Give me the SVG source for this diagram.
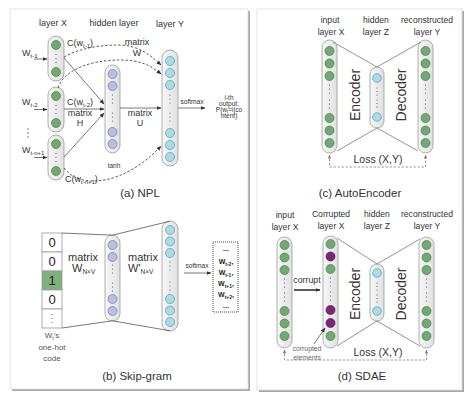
<svg xmlns="http://www.w3.org/2000/svg" width="474" height="401" viewBox="0 0 474 401">
<style>
.t{font-family:"Liberation Sans",Arial,sans-serif;fill:#333}
.col{fill:url(#cg);stroke:#9a9a9a;stroke-width:0.8}
.g{fill:#72a872;stroke:#4e7e4e;stroke-width:0.7}
.p{fill:#bdbde3;stroke:#7878a8;stroke-width:0.7}
.c{fill:#a9dce7;stroke:#5a9bb0;stroke-width:0.7}
.m{fill:#7b257b;stroke:#571557;stroke-width:0.7}
.d{fill:#555}
.ln{stroke:#555;stroke-width:0.8;fill:none}
.dl{stroke:#333;stroke-width:0.8;fill:none;stroke-dasharray:2.5,1.8}
.ls{stroke:#888;stroke-width:0.8;fill:none;stroke-dasharray:2.5,1.5}
.panel{fill:#fff;stroke:#dcdcdc;stroke-width:0.8}
.shadow{fill:#a8a8a8}
</style>
<defs>
<linearGradient id="cg" x1="0" x2="1" y1="0" y2="0"><stop offset="0" stop-color="#f8f8f8"/><stop offset="1" stop-color="#e0e0e0"/></linearGradient>
<marker id="ah" viewBox="0 0 10 10" refX="9" refY="5" markerWidth="5" markerHeight="5" markerUnits="userSpaceOnUse" orient="auto-start-reverse"><path d="M0,1 L10,5 L0,9 z" fill="#333"/></marker>
<marker id="ahs" viewBox="0 0 10 10" refX="9" refY="5" markerWidth="4" markerHeight="4" markerUnits="userSpaceOnUse" orient="auto-start-reverse"><path d="M0,1 L10,5 L0,9 z" fill="#777"/></marker>
</defs>

<!-- panels -->
<rect class="shadow" x="12" y="11" width="238" height="380"/>
<rect class="panel" x="10" y="9" width="238" height="380"/>
<rect class="shadow" x="259" y="11" width="205" height="381"/>
<rect class="panel" x="257" y="9" width="205" height="381"/>

<!-- ===== (a) NPL ===== -->
<text class="t" x="53" y="26" text-anchor="middle" font-size="9">layer X</text>
<text class="t" x="114" y="26" text-anchor="middle" font-size="9">hidden layer</text>
<text class="t" x="170" y="27" text-anchor="middle" font-size="9">layer Y</text>

<g id="npl-x1"><rect class="col" x="48" y="36" width="16" height="45" rx="8"/><circle class="g" cx="56" cy="45" r="4.5"/><circle class="d" cx="56" cy="54.5" r="0.6"/><circle class="d" cx="56" cy="58.5" r="0.6"/><circle class="d" cx="56" cy="62.5" r="0.6"/><circle class="g" cx="56" cy="72" r="4.5"/></g>
<g id="npl-x2"><rect class="col" x="48" y="87" width="16" height="45" rx="8"/><circle class="g" cx="56" cy="96" r="4.5"/><circle class="d" cx="56" cy="105.5" r="0.6"/><circle class="d" cx="56" cy="109.5" r="0.6"/><circle class="d" cx="56" cy="113.5" r="0.6"/><circle class="g" cx="56" cy="123" r="4.5"/></g>
<g id="npl-x3"><rect class="col" x="48" y="135" width="16" height="45" rx="8"/><circle class="g" cx="56" cy="144" r="4.5"/><circle class="d" cx="56" cy="153.5" r="0.6"/><circle class="d" cx="56" cy="157.5" r="0.6"/><circle class="d" cx="56" cy="161.5" r="0.6"/><circle class="g" cx="56" cy="171" r="4.5"/></g>
<g id="npl-hidden"><rect class="col" x="105" y="65" width="15" height="88" rx="7.5"/><circle class="p" cx="112.5" cy="74" r="4.5"/><circle class="p" cx="112.5" cy="86" r="4.5"/><circle class="d" cx="112.5" cy="95" r="0.6"/><circle class="d" cx="112.5" cy="99" r="0.6"/><circle class="d" cx="112.5" cy="103" r="0.6"/><circle class="d" cx="112.5" cy="113" r="0.6"/><circle class="d" cx="112.5" cy="117" r="0.6"/><circle class="d" cx="112.5" cy="121" r="0.6"/><circle class="p" cx="112.5" cy="132" r="4.5"/><circle class="p" cx="112.5" cy="144" r="4.5"/></g>
<g id="npl-y"><rect class="col" x="162" y="50" width="16" height="116" rx="8"/><circle class="c" cx="170" cy="61" r="4.5"/><circle class="c" cx="170" cy="73" r="4.5"/><circle class="c" cx="170" cy="85" r="4.5"/><circle class="d" cx="170" cy="95" r="0.6"/><circle class="d" cx="170" cy="99" r="0.6"/><circle class="d" cx="170" cy="103" r="0.6"/><circle class="d" cx="170" cy="113" r="0.6"/><circle class="d" cx="170" cy="117" r="0.6"/><circle class="d" cx="170" cy="121" r="0.6"/><circle class="c" cx="170" cy="133" r="4.5"/><circle class="c" cx="170" cy="145" r="4.5"/><circle class="c" cx="170" cy="157" r="4.5"/></g>

<g class="t" font-size="9">
<text x="22" y="56">W<tspan font-size="6" dy="2">t-1</tspan></text>
<text x="22" y="105">W<tspan font-size="6" dy="2">t-2</tspan></text>
<text x="22" y="153">W<tspan font-size="6" dy="2">t-n+1</tspan></text>
<text x="67" y="46">C(w<tspan font-size="6" dy="2">t-1</tspan><tspan dy="-2">)</tspan></text>
<text x="67" y="105">C(w<tspan font-size="6" dy="2">t-2</tspan><tspan dy="-2">)</tspan></text>
<text x="65" y="182">C(w<tspan font-size="6" dy="2">t-n+1</tspan><tspan dy="-2">)</tspan></text>
<text x="80" y="116" text-anchor="middle">matrix</text>
<text x="80" y="126" text-anchor="middle">H</text>
<text x="140" y="116" text-anchor="middle">matrix</text>
<text x="140" y="126" text-anchor="middle">U</text>
<text x="137" y="45" text-anchor="middle">matrix</text>
<text x="137" y="55.5" text-anchor="middle">W</text>
</g>
<circle class="d" cx="28" cy="129" r="0.7"/><circle class="d" cx="28" cy="133" r="0.7"/><circle class="d" cx="28" cy="137" r="0.7"/>
<text class="t" x="114" y="168" text-anchor="middle" font-size="6.5">tanh</text>
<text class="t" x="192" y="104" text-anchor="middle" font-size="6.6">softmax</text>
<g class="t" font-size="6.5" text-anchor="middle" fill="#333" style="fill:#333">
<text x="229" y="99.5" fill="#333">i-th</text>
<text x="229" y="105.8" fill="#333">output:</text>
<text x="229" y="112.1" fill="#333">P(w<tspan font-size="4.5" dy="1.2">t</tspan><tspan dy="-1.2">=i|co</tspan></text>
<text x="229" y="118.4" fill="#333">ntent)</text>
</g>
<text class="t" x="140" y="197" text-anchor="middle" font-size="11.5">(a) NPL</text>

<g id="npl-connectors">
<path class="ln" d="M34,59 H47" marker-end="url(#ah)"/>
<path class="ln" d="M34,109.5 H47" marker-end="url(#ah)"/>
<path class="ln" d="M34,157.5 H47" marker-end="url(#ah)"/>
<path class="ln" d="M64,58 L104,104" marker-end="url(#ah)"/>
<path class="ln" d="M64,109 H104" marker-end="url(#ah)"/>
<path class="ln" d="M64,157 L104,113" marker-end="url(#ah)"/>
<path class="ln" d="M120,108 H161" marker-end="url(#ah)"/>
<path class="ln" d="M178,108 H205" marker-end="url(#ah)"/>
<path class="dl" d="M64,57 C80,48 100,45 120,45 C140,46 150,55 161,65" marker-end="url(#ah)"/>
<path class="dl" d="M58,88 C64,70 90,60 120,60 C140,60 150,65 161,74" marker-end="url(#ah)"/>
<path class="dl" d="M64,168 C80,190 125,185 161,146" marker-end="url(#ah)"/>
</g>

<!-- ===== (b) Skip-gram ===== -->
<g id="sg-onehot">
<rect x="42" y="233" width="20" height="19" fill="#fff" stroke="#999" stroke-width="0.8"/>
<rect x="42" y="252" width="20" height="19" fill="#fff" stroke="#999" stroke-width="0.8"/>
<rect x="42" y="271" width="20" height="19" fill="#7fae7f" stroke="#999" stroke-width="0.8"/>
<rect x="42" y="290" width="20" height="19" fill="#fff" stroke="#999" stroke-width="0.8"/>
<rect x="42" y="309" width="20" height="19" fill="#fff" stroke="#999" stroke-width="0.8"/>
<g class="t" font-size="13" text-anchor="middle" style="fill:#222">
<text x="52" y="247">0</text><text x="52" y="266">0</text><text x="52" y="285">1</text><text x="52" y="304">0</text>
</g>
<circle class="d" cx="52" cy="314.5" r="0.6"/><circle class="d" cx="52" cy="318.5" r="0.6"/><circle class="d" cx="52" cy="322.5" r="0.6"/>
</g>
<g class="t" font-size="8" text-anchor="middle" style="fill:#555">
<text x="52" y="338">W<tspan font-size="5.5" dy="1.5">t</tspan><tspan dy="-1.5">'s</tspan></text>
<text x="52" y="350">one-hot</text>
<text x="52" y="361">code</text>
</g>
<g id="sg-hidden"><rect class="col" x="105" y="235" width="15" height="86" rx="7.5"/><circle class="p" cx="112.5" cy="245" r="4.5"/><circle class="p" cx="112.5" cy="257" r="4.5"/><circle class="d" cx="112.5" cy="265" r="0.6"/><circle class="d" cx="112.5" cy="269" r="0.6"/><circle class="d" cx="112.5" cy="273" r="0.6"/><circle class="d" cx="112.5" cy="283" r="0.6"/><circle class="d" cx="112.5" cy="287" r="0.6"/><circle class="d" cx="112.5" cy="291" r="0.6"/><circle class="p" cx="112.5" cy="299" r="4.5"/><circle class="p" cx="112.5" cy="311" r="4.5"/></g>
<g id="sg-out"><rect class="col" x="162" y="221" width="16" height="110" rx="8"/><circle class="c" cx="170" cy="230" r="4.5"/><circle class="c" cx="170" cy="241.5" r="4.5"/><circle class="c" cx="170" cy="253" r="4.5"/><circle class="d" cx="170" cy="262" r="0.6"/><circle class="d" cx="170" cy="266" r="0.6"/><circle class="d" cx="170" cy="270" r="0.6"/><circle class="d" cx="170" cy="282" r="0.6"/><circle class="d" cx="170" cy="286" r="0.6"/><circle class="d" cx="170" cy="290" r="0.6"/><circle class="c" cx="170" cy="299" r="4.5"/><circle class="c" cx="170" cy="310.5" r="4.5"/><circle class="c" cx="170" cy="322" r="4.5"/></g>
<g id="sg-words">
<rect x="213" y="242" width="25" height="70" fill="#fff" stroke="#333" stroke-width="0.9" stroke-dasharray="1,1"/>
<g class="t" font-size="7" font-weight="bold" text-anchor="middle" style="fill:#222">
<text x="226" y="251">...</text>
<text x="226" y="264">W<tspan font-size="5" dy="1.5">t-2</tspan><tspan dy="-1.5">,</tspan></text>
<text x="226" y="275">W<tspan font-size="5" dy="1.5">t-1</tspan><tspan dy="-1.5">,</tspan></text>
<text x="226" y="286">W<tspan font-size="5" dy="1.5">t+1</tspan><tspan dy="-1.5">,</tspan></text>
<text x="226" y="297">W<tspan font-size="5" dy="1.5">t+2</tspan><tspan dy="-1.5">,</tspan></text>
<text x="226" y="308">...</text>
</g>
</g>
<g class="t" font-size="11">
<text x="83" y="261" text-anchor="middle">matrix</text>
<text x="72" y="272">W<tspan font-size="6.5" dy="2">N×V</tspan></text>
<text x="143" y="261" text-anchor="middle">matrix</text>
<text x="128" y="272">W'<tspan font-size="6.5" dy="2">N×V</tspan></text>
</g>
<text class="t" x="197" y="268" text-anchor="middle" font-size="6.6">softmax</text>
<text class="t" x="137" y="380" text-anchor="middle" font-size="11.5">(b) Skip-gram</text>
<g id="sg-connectors">
<path class="ln" d="M62,233 L112.5,235.2 M62,328 L112.5,320.8 M112.5,235.2 L170,221.2 M112.5,320.8 L170,330.8"/>
<path class="ln" d="M184,273 H211" marker-end="url(#ah)"/>
</g>

<!-- ===== (c) AutoEncoder ===== -->
<g class="t" font-size="8.6" text-anchor="middle">
<text x="330" y="23">input</text><text x="331" y="35">layer X</text>
<text x="376" y="23">hidden</text><text x="376" y="35">layer Z</text>
<text x="427" y="23">reconstructed</text><text x="427" y="35">layer Y</text>
</g>
<g id="ae-x"><rect class="col" x="322" y="40" width="15" height="113" rx="7.5"/><circle class="g" cx="329.5" cy="51" r="4.5"/><circle class="g" cx="329.5" cy="63.5" r="4.5"/><circle class="g" cx="329.5" cy="76" r="4.5"/><circle class="d" cx="329.5" cy="85" r="0.6"/><circle class="d" cx="329.5" cy="89" r="0.6"/><circle class="d" cx="329.5" cy="93" r="0.6"/><circle class="d" cx="329.5" cy="100" r="0.6"/><circle class="d" cx="329.5" cy="104" r="0.6"/><circle class="d" cx="329.5" cy="108" r="0.6"/><circle class="g" cx="329.5" cy="118" r="4.5"/><circle class="g" cx="329.5" cy="130.5" r="4.5"/><circle class="g" cx="329.5" cy="143" r="4.5"/></g>
<g id="ae-z"><rect class="col" x="370" y="67" width="14" height="61" rx="7"/><circle class="c" cx="377" cy="78" r="4.3"/><circle class="d" cx="377" cy="88" r="0.6"/><circle class="d" cx="377" cy="91.5" r="0.6"/><circle class="d" cx="377" cy="95" r="0.6"/><circle class="d" cx="377" cy="100" r="0.6"/><circle class="d" cx="377" cy="103.5" r="0.6"/><circle class="d" cx="377" cy="107" r="0.6"/><circle class="c" cx="377" cy="117" r="4.3"/></g>
<g id="ae-y"><rect class="col" x="418" y="40" width="15" height="113" rx="7.5"/><circle class="g" cx="425.5" cy="51" r="4.5"/><circle class="g" cx="425.5" cy="63.5" r="4.5"/><circle class="g" cx="425.5" cy="76" r="4.5"/><circle class="d" cx="425.5" cy="85" r="0.6"/><circle class="d" cx="425.5" cy="89" r="0.6"/><circle class="d" cx="425.5" cy="93" r="0.6"/><circle class="d" cx="425.5" cy="100" r="0.6"/><circle class="d" cx="425.5" cy="104" r="0.6"/><circle class="d" cx="425.5" cy="108" r="0.6"/><circle class="g" cx="425.5" cy="118" r="4.5"/><circle class="g" cx="425.5" cy="130.5" r="4.5"/><circle class="g" cx="425.5" cy="143" r="4.5"/></g>
<text class="t" transform="translate(354.5,95) rotate(-90)" text-anchor="middle" dominant-baseline="central" font-size="14">Encoder</text>
<text class="t" transform="translate(400.5,95) rotate(-90)" text-anchor="middle" dominant-baseline="central" font-size="14">Decoder</text>
<text class="t" x="378" y="163" text-anchor="middle" font-size="10.5">Loss (X,Y)</text>
<text class="t" x="360" y="197" text-anchor="middle" font-size="11.5">(c) AutoEncoder</text>
<g id="ae-connectors">
<path class="ln" d="M333,42 L377,67 L421,42 M337,151 L377,128 L418,151" style="stroke:#777"/>
<path class="ls" d="M329.5,155 V167 H425.5 V155" marker-start="url(#ahs)" marker-end="url(#ahs)"/>
</g>

<!-- ===== (d) SDAE ===== -->
<g class="t" font-size="8.6" text-anchor="middle">
<text x="285" y="218">input</text><text x="285" y="229.5">layer X</text>
<text x="331" y="217">Corrupted</text><text x="331" y="228.5">layer X</text>
<text x="377" y="217">hidden</text><text x="377" y="228.5">layer Z</text>
<text x="427" y="217">reconstructed</text><text x="427" y="228.5">layer Y</text>
</g>
<g id="sd-x"><rect class="col" x="277" y="237" width="15" height="111" rx="7.5"/><circle class="g" cx="284.5" cy="245" r="4.5"/><circle class="g" cx="284.5" cy="257.5" r="4.5"/><circle class="g" cx="284.5" cy="270" r="4.5"/><circle class="d" cx="284.5" cy="279" r="0.6"/><circle class="d" cx="284.5" cy="283" r="0.6"/><circle class="d" cx="284.5" cy="287" r="0.6"/><circle class="d" cx="284.5" cy="293" r="0.6"/><circle class="d" cx="284.5" cy="297" r="0.6"/><circle class="d" cx="284.5" cy="301" r="0.6"/><circle class="g" cx="284.5" cy="311" r="4.5"/><circle class="g" cx="284.5" cy="323.5" r="4.5"/><circle class="g" cx="284.5" cy="336" r="4.5"/></g>
<g id="sd-cx"><rect class="col" x="323" y="236" width="15" height="112" rx="7.5"/><circle class="g" cx="330.5" cy="244" r="4.5"/><circle class="m" cx="330.5" cy="256.5" r="4.5"/><circle class="g" cx="330.5" cy="269" r="4.5"/><circle class="d" cx="330.5" cy="278" r="0.6"/><circle class="d" cx="330.5" cy="282" r="0.6"/><circle class="d" cx="330.5" cy="286" r="0.6"/><circle class="d" cx="330.5" cy="292" r="0.6"/><circle class="d" cx="330.5" cy="296" r="0.6"/><circle class="d" cx="330.5" cy="300" r="0.6"/><circle class="m" cx="330.5" cy="310" r="4.5"/><circle class="m" cx="330.5" cy="323" r="4.5"/><circle class="g" cx="330.5" cy="336" r="4.5"/></g>
<g id="sd-z"><rect class="col" x="370" y="264" width="14" height="57" rx="7"/><circle class="c" cx="377" cy="273" r="4.3"/><circle class="d" cx="377" cy="283" r="0.6"/><circle class="d" cx="377" cy="286.5" r="0.6"/><circle class="d" cx="377" cy="290" r="0.6"/><circle class="d" cx="377" cy="295" r="0.6"/><circle class="d" cx="377" cy="298.5" r="0.6"/><circle class="d" cx="377" cy="302" r="0.6"/><circle class="c" cx="377" cy="311" r="4.3"/></g>
<g id="sd-y"><rect class="col" x="419" y="237" width="15" height="111" rx="7.5"/><circle class="g" cx="426.5" cy="245" r="4.5"/><circle class="g" cx="426.5" cy="257.5" r="4.5"/><circle class="g" cx="426.5" cy="270" r="4.5"/><circle class="d" cx="426.5" cy="279" r="0.6"/><circle class="d" cx="426.5" cy="283" r="0.6"/><circle class="d" cx="426.5" cy="287" r="0.6"/><circle class="d" cx="426.5" cy="293" r="0.6"/><circle class="d" cx="426.5" cy="297" r="0.6"/><circle class="d" cx="426.5" cy="301" r="0.6"/><circle class="g" cx="426.5" cy="311" r="4.5"/><circle class="g" cx="426.5" cy="323.5" r="4.5"/><circle class="g" cx="426.5" cy="336" r="4.5"/></g>
<text class="t" transform="translate(354.5,294) rotate(-90)" text-anchor="middle" dominant-baseline="central" font-size="14">Encoder</text>
<text class="t" transform="translate(400.5,294) rotate(-90)" text-anchor="middle" dominant-baseline="central" font-size="14">Decoder</text>
<text class="t" x="307" y="283" text-anchor="middle" font-size="8.8">corrupt</text>
<g class="t" font-size="6.8" text-anchor="middle" style="fill:#666">
<text x="307" y="350.5">corrupted</text>
<text x="307" y="359.5">elements</text>
</g>
<text class="t" x="378" y="356" text-anchor="middle" font-size="10.5">Loss (X,Y)</text>
<text class="t" x="362" y="380" text-anchor="middle" font-size="11.5">(d) SDAE</text>
<g id="sd-connectors">
<path class="ln" d="M337,238 L377,264 L420,239 M337,346 L377,321 L420,346" style="stroke:#777"/>
<path d="M294,290 H320" stroke="#333" stroke-width="1.6" fill="none" marker-end="url(#ah)"/>
<path class="ln" d="M314,344 L325,328" marker-end="url(#ah)"/>
<path class="ls" d="M284.5,350 V360 H426.5 V350" marker-start="url(#ahs)" marker-end="url(#ahs)"/>
</g>
</svg>
